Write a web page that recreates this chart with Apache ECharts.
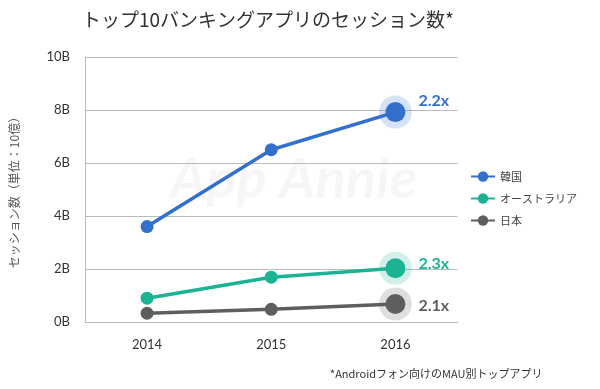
<!DOCTYPE html>
<html><head><meta charset="utf-8">
<script src="https://cdn.jsdelivr.net/npm/echarts@6/dist/echarts.min.js"></script>
<style>html,body{margin:0;padding:0;background:#fff}#c{width:600px;height:389px}</style>
</head><body><div id="c"></div>
<script>
const categories = ['2014', '2015', '2016'];
const korea = [3.6, 6.5, 7.92];
const australia = [0.9, 1.69, 2.03];
const japan = [0.33, 0.48, 0.68];
const growthLabels = ['2.2x', '2.3x', '2.1x'];
const seriesNames = ['韓国', 'オーストラリア', '日本'];
const colors = ['#3370cc', '#1bb394', '#5e5e5e'];
const haloColors = ['rgba(51,112,204,0.25)', 'rgba(27,179,148,0.25)', 'rgba(94,94,94,0.25)'];
const labelOffsets = [[0, -11], [0, -4], [0, 2]];

const font = 'Lato, "Noto Sans CJK JP", sans-serif';
const cjk = '"Noto Sans CJK JP", "Noto Sans", sans-serif';
const allData = [korea, australia, japan];

const series = [];
allData.forEach((vals, i) => {
  const last = vals.length - 1;
  series.push({
    type: 'scatter', silent: true, z: 1,
    data: vals.map((v, j) => j === last ? v : null),
    symbolSize: 33,
    itemStyle: { color: haloColors[i] },
    tooltip: { show: false }
  });
});
allData.forEach((vals, i) => {
  const last = vals.length - 1;
  series.push({
    name: seriesNames[i], type: 'line', z: 3,
    symbol: 'circle', symbolSize: 13,
    color: colors[i],
    lineStyle: { width: 3.5, color: colors[i] },
    itemStyle: { color: colors[i] },
    data: vals.map((v, j) => j === last ? {
      value: v, symbolSize: 20,
      label: { show: true, position: 'right', distance: 13, offset: labelOffsets[i],
        formatter: growthLabels[i], color: colors[i], fontWeight: 'bold', fontSize: 16, fontFamily: font }
    } : v)
  });
});

const chart = echarts.init(document.getElementById('c'), null, { renderer: 'canvas' });
chart.setOption({
  animation: false,
  backgroundColor: '#fff',
  title: { text: 'トップ10バンキングアプリのセッション数*', left: 77, top: 5,
    textStyle: { fontFamily: cjk, fontSize: 19, fontWeight: 'normal', color: '#333' } },
  graphic: [
    { type: 'text', left: 170, top: 152, z: 0, silent: true,
      style: { text: 'App Annie', fill: 'rgba(0,0,0,0.035)', font: 'italic bold 56px Lato, sans-serif' } },
    { type: 'text', left: 330, top: 368,
      style: { text: '*Androidフォン向けのMAU別トップアプリ', fill: '#333', font: '11px ' + cjk } }
  ],
  legend: {
    orient: 'vertical', left: 465, top: 166, itemGap: 11, itemWidth: 24, itemHeight: 13,
    data: seriesNames,
    textStyle: { fontFamily: cjk, fontSize: 11, color: '#444' }
  },
  grid: { left: 83, right: 142.5, top: 57, bottom: 67 },
  xAxis: {
    type: 'category', data: categories, boundaryGap: true,
    axisLine: { show: true, lineStyle: { color: '#bbb' } },
    axisTick: { show: false },
    axisLabel: { color: '#333', fontSize: 13, margin: 16, fontFamily: font }
  },
  yAxis: {
    type: 'value', min: 0, max: 10, interval: 2,
    name: 'セッション数（単位：10億）', nameLocation: 'middle', nameGap: 65, nameRotate: 90,
    nameTextStyle: { fontFamily: cjk, fontSize: 12, color: '#555' },
    axisLine: { show: true, lineStyle: { color: '#bbb' } },
    axisTick: { show: false },
    splitLine: { lineStyle: { color: '#bbb' } },
    axisLabel: { formatter: '{value}B', color: '#333', fontSize: 13, margin: 15, fontFamily: font }
  },
  series: series
});
</script></body></html>
